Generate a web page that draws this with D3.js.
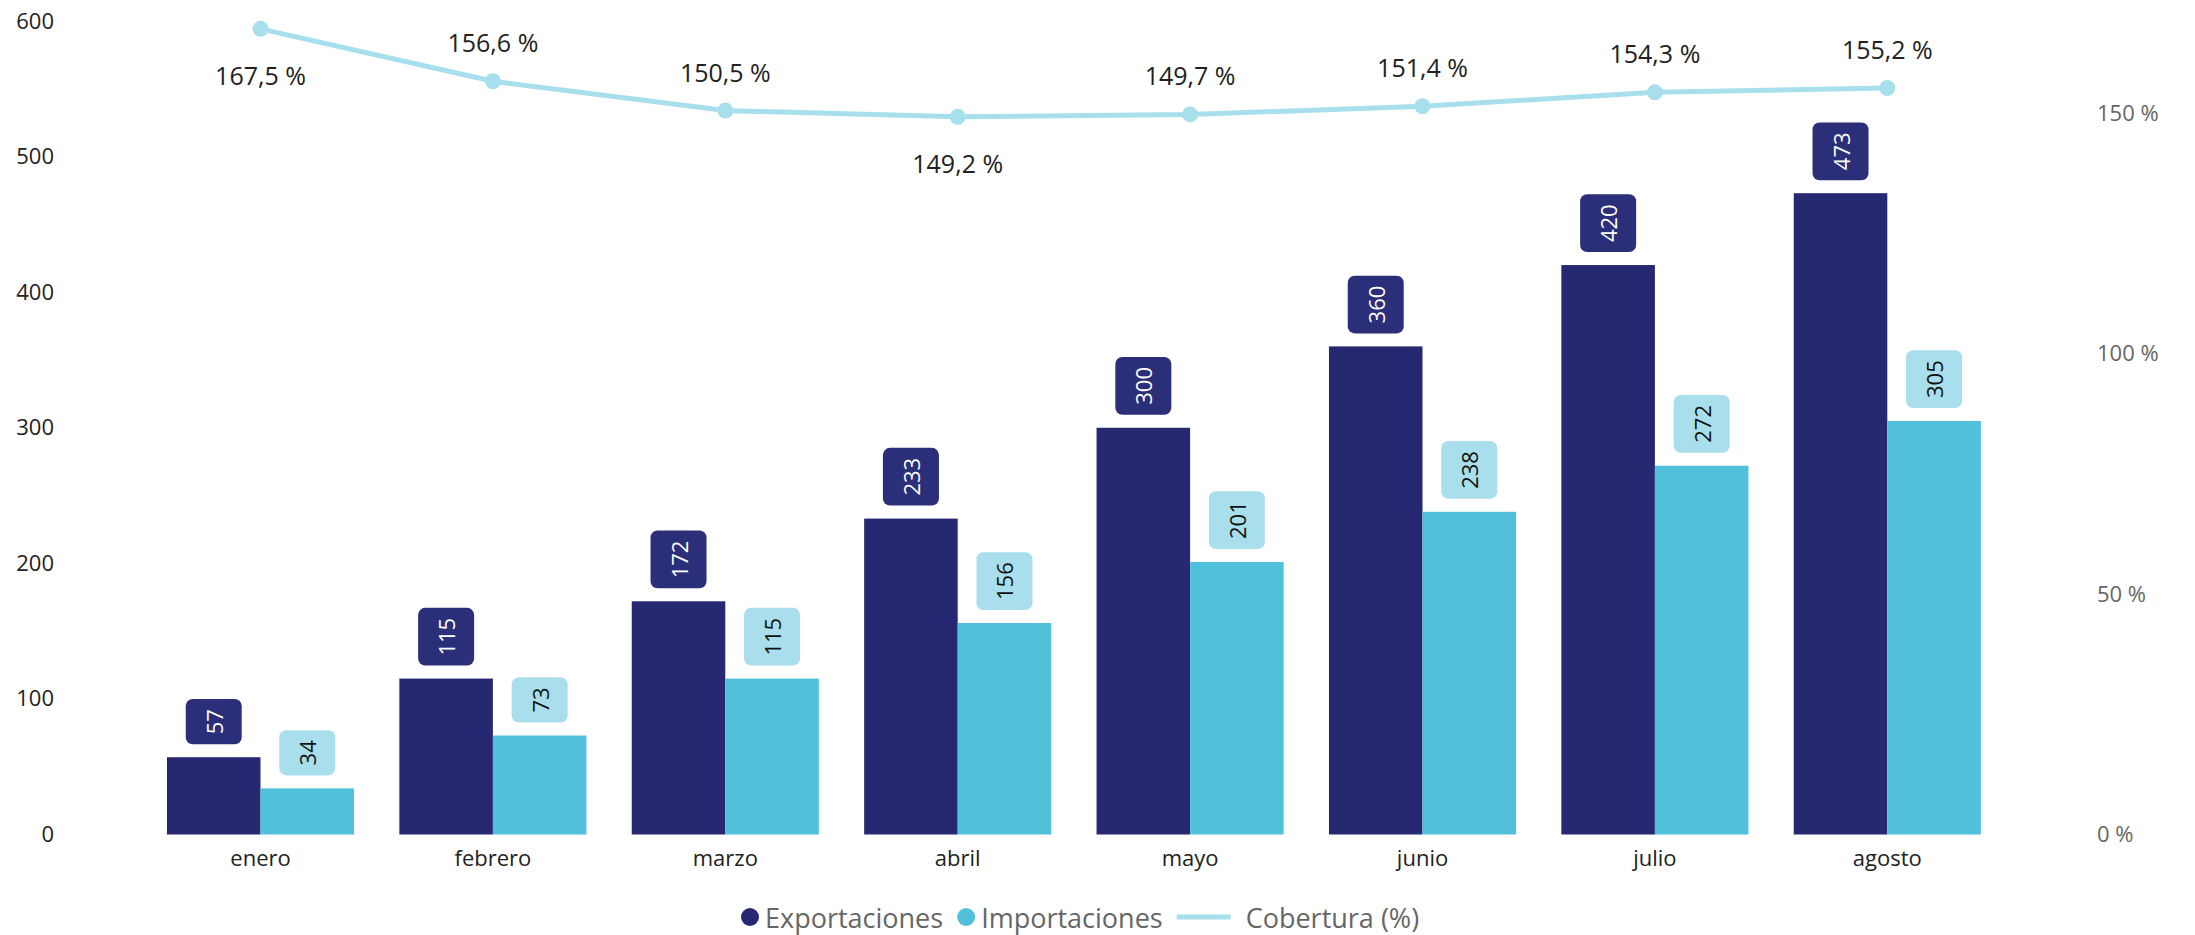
<!DOCTYPE html>
<html><head><meta charset="utf-8">
<script src="https://cdn.jsdelivr.net/npm/d3@7"></script>
<style>body{margin:0;background:#fff}svg{display:block}text{font-family:"Open Sans","Segoe UI",sans-serif}</style>
</head><body><svg id="c" width="2195" height="935"></svg>
<script>
const months = ["enero","febrero","marzo","abril","mayo","junio","julio","agosto"];
const exportaciones = [57,115,172,233,300,360,420,473];
const importaciones = [34,73,115,156,201,238,272,305];
const cobertura = [167.5,156.6,150.5,149.2,149.7,151.4,154.3,155.2];
const leftTicks = [0,100,200,300,400,500,600];
const rightTicks = [0,50,100,150];
const seriesNames = ["Exportaciones","Importaciones","Cobertura (%)"];
const coberturaLabelBelow = ["enero","abril"];

const colExp = "#262872", colImp = "#51c0da", colExpBox = "#2b2e78", colImpBox = "#a9dfec", colLine = "#a8dfec";

const svg = d3.select("#c");
const y = d3.scaleLinear().domain([0,600]).range([834.5,21]);
const yR = d3.scaleLinear().domain([0,150]).range([834.5,113]);
const x = d3.scaleBand().domain(months).range([144.3,2003.5]).paddingInner(0.195).paddingOuter(0.0975);
const xs = d3.scaleBand().domain(["exp","imp"]).range([0,x.bandwidth()]).padding(0);
const fmtPct = v => String(v).replace(".", ",") + " %";

// axes
const gl = svg.append("g").attr("transform","translate(54,0)")
  .call(d3.axisLeft(y).tickValues(leftTicks).tickSize(0).tickPadding(0));
gl.select(".domain").remove();
gl.selectAll("text").attr("font-size",22).attr("fill","#222").attr("font-family","Open Sans");

const gr = svg.append("g").attr("transform","translate(2097,0)")
  .call(d3.axisRight(yR).tickValues(rightTicks).tickSize(0).tickPadding(0).tickFormat(d => d + " %"));
gr.select(".domain").remove();
gr.selectAll("text").attr("font-size",22).attr("fill","#666").attr("font-family","Open Sans");

const gx = svg.append("g").attr("transform","translate(0,834)")
  .call(d3.axisBottom(x).tickSize(0).tickPadding(16));
gx.select(".domain").remove();
gx.selectAll("text").attr("font-size",22).attr("fill","#222").attr("font-family","Open Sans");

// bars
const rows = months.map((m,i) => ({m, exp: exportaciones[i], imp: importaciones[i], cov: cobertura[i]}));
const series = [
  {key:"exp", get:d=>d.exp, fill:colExp, box:colExpBox, txt:"#fff"},
  {key:"imp", get:d=>d.imp, fill:colImp, box:colImpBox, txt:"#111"}
];
series.forEach(s => {
  const g = svg.append("g");
  g.selectAll("rect").data(rows).join("rect")
    .attr("x", d => x(d.m) + xs(s.key))
    .attr("width", xs.bandwidth())
    .attr("y", d => y(s.get(d)))
    .attr("height", d => y(0) - y(s.get(d)))
    .attr("fill", s.fill);
  const lg = svg.append("g");
  rows.forEach(d => {
    const cx = x(d.m) + xs(s.key) + xs.bandwidth()/2;
    const top = y(s.get(d));
    const grp = lg.append("g");
    const rect = grp.append("rect");
    const t = grp.append("text").text(s.get(d)).attr("font-size",22).attr("fill",s.txt)
      .attr("text-anchor","middle").attr("dominant-baseline","central");
    const tw = t.node().getComputedTextLength();
    const h = tw + 20, w = 56;
    const by = top - 13 - h;
    rect.attr("x", cx - w/2).attr("y", by).attr("width", w).attr("height", h)
      .attr("rx", 7).attr("fill", s.box);
    t.attr("transform", `translate(${cx},${by + h/2}) rotate(-90)`);
  });
});

// line
const cxm = d => x(d.m) + x.bandwidth()/2;
svg.append("path").datum(rows)
  .attr("d", d3.line().x(cxm).y(d => yR(d.cov)))
  .attr("fill","none").attr("stroke",colLine).attr("stroke-width",5);
svg.append("g").selectAll("circle").data(rows).join("circle")
  .attr("cx", cxm).attr("cy", d => yR(d.cov)).attr("r", 8).attr("fill", colLine);
svg.append("g").selectAll("text").data(rows).join("text")
  .attr("x", cxm)
  .attr("y", d => yR(d.cov) + (coberturaLabelBelow.includes(d.m) ? 46 : -39))
  .attr("text-anchor","middle").attr("dominant-baseline","central")
  .attr("font-size",25).attr("fill","#222")
  .text(d => fmtPct(d.cov));

// legend
const leg = svg.append("g").attr("transform","translate(741,917)");
let lx = 0;
const legendItems = [
  {name: seriesNames[0], type:"dot", color: colExp},
  {name: seriesNames[1], type:"dot", color: colImp},
  {name: seriesNames[2], type:"line", color: colLine}
];
legendItems.forEach(it => {
  if (it.type === "dot") {
    leg.append("circle").attr("cx", lx + 9).attr("cy", 0).attr("r", 9).attr("fill", it.color);
    lx += 18 + 6;
  } else {
    leg.append("line").attr("x1", lx).attr("x2", lx + 54).attr("y1",0).attr("y2",0)
      .attr("stroke", it.color).attr("stroke-width",5);
    lx += 54 + 15;
  }
  const t = leg.append("text").attr("x", lx).attr("y", 0).attr("dominant-baseline","central")
    .attr("font-size",27).attr("fill","#666").text(it.name);
  lx += t.node().getComputedTextLength() + 14;
});
</script></body></html>
